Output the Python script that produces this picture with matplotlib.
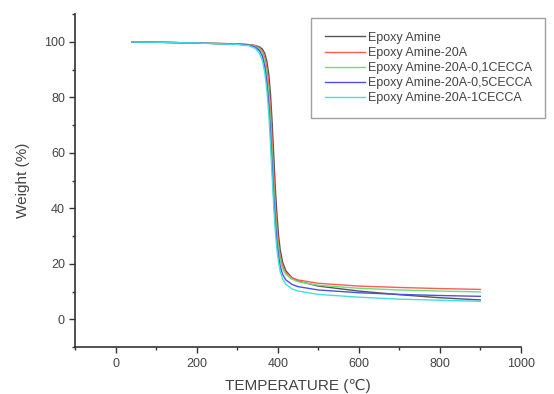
import matplotlib
matplotlib.use("Agg")
from matplotlib import pyplot as plt
from matplotlib.ticker import MultipleLocator

plt.rcParams["font.family"] = ["Liberation Sans", "DejaVu Sans"]

# temperature grid (°C) shared by all curves
temps = [40, 100, 200, 300, 330, 345, 355, 362, 368, 373, 378, 382, 386, 390,
         394, 398, 402, 406, 412, 420, 435, 450, 500, 600, 700, 800, 900]

w_epoxy = [100, 99.9, 99.6, 99.3, 99.0, 98.7, 98.2, 97.4, 95.8, 93.0, 88.0, 81.0,
           71.0, 59.0, 47.0, 37.5, 30.0, 25.0, 20.5, 17.5, 15.0, 13.8, 12.0, 10.2, 8.9, 7.8, 7.0]
w_20a = [100, 99.9, 99.6, 99.3, 99.0, 98.6, 97.8, 96.6, 94.2, 90.5, 84.0, 75.5,
         64.0, 52.0, 41.0, 32.5, 26.5, 22.5, 19.0, 16.8, 15.0, 14.2, 13.0, 12.0, 11.5, 11.1, 10.8]
w_01c = [100, 99.9, 99.6, 99.2, 98.9, 98.4, 97.4, 95.8, 92.8, 88.0, 80.5, 71.0,
         59.5, 47.5, 37.5, 30.0, 24.8, 21.2, 18.2, 16.2, 14.5, 13.6, 12.3, 11.2, 10.6, 10.2, 9.9]
w_05c = [100, 99.9, 99.6, 99.2, 98.8, 98.1, 96.8, 94.8, 91.0, 85.5, 77.0, 67.0,
         55.5, 44.0, 34.5, 27.5, 22.5, 19.0, 16.2, 14.2, 12.6, 11.8, 10.6, 9.6, 9.0, 8.6, 8.3]
w_1c = [100, 99.9, 99.6, 99.1, 98.6, 97.6, 95.8, 93.2, 88.8, 82.5, 73.5, 63.0,
        51.5, 40.5, 31.5, 25.0, 20.5, 17.2, 14.5, 12.6, 11.0, 10.2, 9.0, 8.0, 7.3, 6.9, 6.5]

labels = ["Epoxy Amine", "Epoxy Amine-20A", "Epoxy Amine-20A-0,1CECCA",
          "Epoxy Amine-20A-0,5CECCA", "Epoxy Amine-20A-1CECCA"]
colors = ["#555555", "#ff5a5a", "#6ee06e", "#5050e0", "#40e0e0"]

fig = plt.figure(figsize=(5.54, 3.94), dpi=100)
ax = fig.add_axes([0.136, 0.119, 0.804, 0.845])

for w, lab, c in zip([w_epoxy, w_20a, w_01c, w_05c, w_1c], labels, colors):
    ax.plot(temps, w, color=c, lw=1.0, label=lab)

ax.set_xlim(-100, 1000)
ax.set_ylim(-10, 110)
ax.spines["top"].set_visible(False)
ax.spines["right"].set_visible(False)
for s in ("left", "bottom"):
    ax.spines[s].set_color("#333333")
    ax.spines[s].set_linewidth(1.2)

ax.xaxis.set_minor_locator(MultipleLocator(100))
ax.yaxis.set_minor_locator(MultipleLocator(10))
ax.set_xticks([0, 200, 400, 600, 800, 1000])
ax.set_yticks([0, 20, 40, 60, 80, 100])
ax.tick_params(which="major", direction="out", length=4, width=1, colors="#333333",
               labelsize=9, labelcolor="#444444")
ax.tick_params(which="minor", direction="out", length=2, width=1, colors="#333333")

ax.set_xlabel("TEMPERATURE (\u2103)", fontsize=11, color="#444444", labelpad=7)
ax.set_ylabel("Weight (%)", fontsize=11, color="#444444", labelpad=10)

leg = fig.legend(loc="upper left", bbox_to_anchor=(0.562, 0.954), fontsize=9,
                 frameon=True, fancybox=False, handlelength=3.2, handletextpad=0.2,
                 labelspacing=0.25, borderpad=1.1, borderaxespad=0)
leg.get_frame().set_edgecolor("#888888")
leg.get_frame().set_linewidth(1.0)
for t in leg.get_texts():
    t.set_color("#444444")

plt.savefig("out.png", dpi=100)
